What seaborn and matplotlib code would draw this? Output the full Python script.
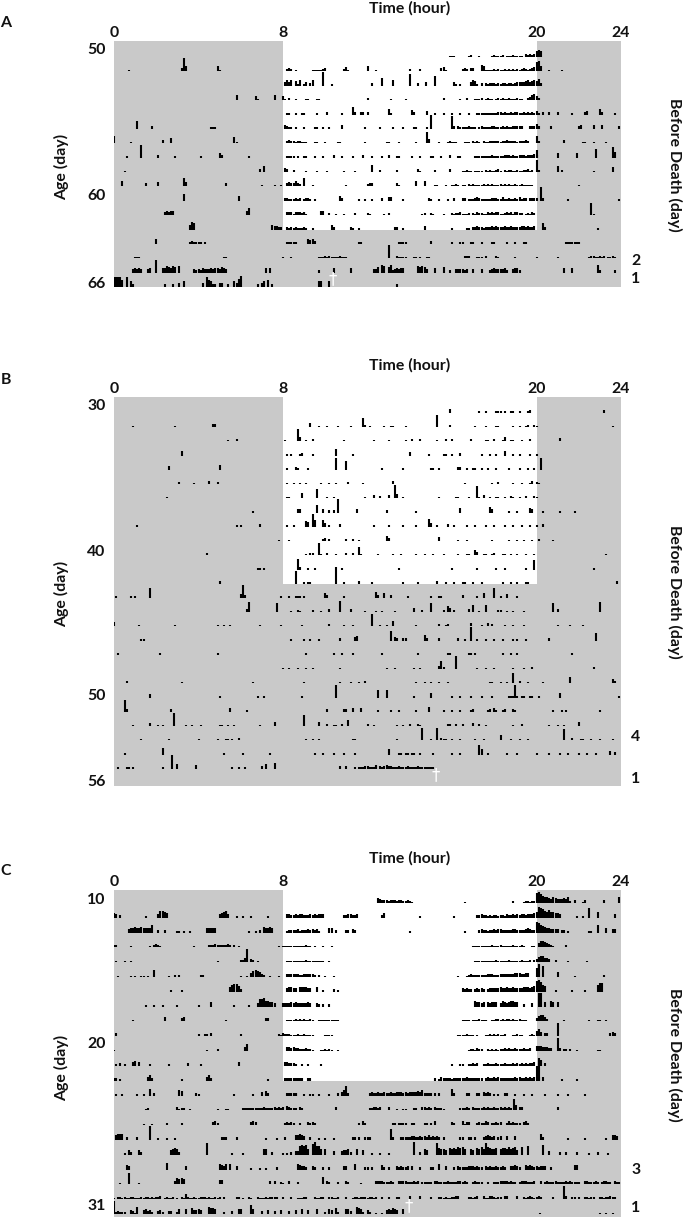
import numpy as np
import pandas as pd
import matplotlib
matplotlib.use("Agg")
import matplotlib.pyplot as plt
import seaborn as sns

# Each string is one day. Token = start hour : successive 0.1 h activity heights (base-36, pixels)
rows_a = [
"15.9:111 16.8:12 17.3:1 17.9:121112011121111032323 20:676",
"0.7:1 3.2:3d5 4.9:51 8.2:232 8.6:1 9.4:111112 10:3 10.9:241 12:5 12.4:1 14:2 14.5:2 15.5:341 16.5:232 16.9:33 17.4:651 17.7:1112121121212121232123 19.9:49a5 20.6:1 21.2:1",
"8.1:3535 8.6:415 9:13 9.3:25 9.9:d 10.3:1 12.2:2 12.7:7 13.2:5 14:b 14.4:2 14.75:3 15.2:9 16.1:31 16.4:1 16.9:3541 17.4:2 17.6:21222121221221233334 19.6:5343 19.9:5462",
"5.8:5 6.7:41 7.6:5 8:41 8.3:2 8.6:1 9.1:11 9.6:11 12:2 13.1:1 13.8:1 15.6:2 16.4:1 16.7:2 17.1:11120121101212112111211 19.6:231 19.8:564 20.1:2",
"8.2:11 8.6:1 8.9:11 9.6:1 10.1:2 10.8:1 11.3:72 11.7:22 12:2 13:51 14.1:42 14.8:3 15.2:1 15.6:1 16:1 16.4:1 16.8:1 17.2:1111111111221211212211212 19.7:12131 20.3:2 20.6:2 21:2 21.7:1 22.3:23 23:52 23.7:1",
"1.1:7 1.8:2 4.6:111 8.1:3211 8.6:1 9:1 9.5:11 9.9:1 10.2:1 10.8:3 11.9:1 12.6:1 13.2:1 13.7:1 14.2:11 14.8:1 15:d 16:c2 16.3:2111121110121111221112121122222 19.7:222 20:42 20.7:2 22:23 22.7:3 23.1:3 23.9:2",
"0:7 0.8:1 2.3:3 2.7:5 5.7:61 8.2:2322122101 9:1 9.5:11 10:1 10.6:11 11.9:1 12.9:11 13.5:1 14.3:1 14.8:b4 15.4:1 15.8:1211 16.2:1 16.6:1110212102112222212232222122232 20:72 21.3:3 22.2:11 22.7:1 23.3:1",
"0.6:1 1.3:c 2.1:2 2.9:1 4.1:1 5:42 6.4:1 8.2:1111 8.7:1 9:11 9.5:1 9.9:1 10.4:2 10.8:1 11.3:1 11.8:2 12.2:1 12.7:1 13:2 13.4:11 14.1:1 14.5:1 15:11 15.5:1 15.9:2 16.3:11 17.1:111111112111112221211222122232 20:7 21:4 21.9:4 22.8:8 23.6:a5",
"0.5:1 6.9:3 7.1:6 8.1:43 8.5:2 9.1:1 9.6:1 10.1:1 10.9:1 11.4:1 12.2:7 12.6:2 13.4:2 14.4:31 15.2:2 15.9:3 16.5:1121101111021211231021221121122312 20:c2 21:6 21.2:2 22.7:1 23.6:5",
"0.4:5 1.5:3 2.1:4 3.3:84 5.3:3 7:1 7.6:1 7.9:1 8.2:3433532 9:8 9.4:1 11:1 12:233 13.4:31 14.3:5 14.7:5 15.2:11 15.7:1 16:1121 16.5:11 16.8:2121111212121112121211211211111 22:1",
"3.3:6 5.9:4 8.1:2211121201221 9.5:1 10.7:42 11.6:1 11.9:1 12.2:1 12.7:2 13:33 13.7:1 14.9:21 15.4:1 15.8:1 16.1:2 16.5:2201112321111122211311211213122 19.7:2222 20.2:d2 21.5:1 23.9:1",
"2.4:343 2.7:44 6.3:47 8.2:333133323 9:31 9.8:44 10.2:2 10.5:1 10.9:1 11.4:2 12:21 12.8:1 13:2 14.6:12 15:21 15.6:1 16:2122311120213221132323311232313 19:3322 19.5:1213 19.8:22 22.6:c1",
"3.6:47 3.8:6 7.5:4332 7.9:2 8.2:2121211121 9.4:1 10.3:42 11.2:21 11.6:1 13.3:22 13.7:1 14.7:3 16:1 16.7:11 17:223221222323222322322223323223 20.3:62 22.9:1",
"2:4 3.6:1211 4:11 4.3:1 8.2:1111 8.6:1 9.2:434 9.5:2 11.6:11 13.5:1111 15:2 16:1 16.4:11 16.9:11 17.4:1 17.9:11 18.6:1 19:1 19.4:11 21.4:1111 21.8:111",
"1:111 5.2:11 8:1 8.4:1 9.7:1111 10:2121 10.4:1112 10.8:111 13:d 13.4:2111 13.8:1 14.2:11 14.5:1 14.8:11 16.6:222 17.2:111 17.6:2 18.1:21 19:1 20:1 21:1 22.5:1221 22.9:1212 23.4:1121",
"0.9:3434 1.3:3 1.6:34 2:c 2.3:4465465 3.1:6 3.8:3232433 4.5:34344354 5.3:3 7.2:4 7.4:4 9.7:2 10.4:4 11.2:4 12.3:335 12.7:76 13:57234344 14.4:6565 14.8:3 15.2:4 15.6:5 15.9:2 16.2:333323 17:3 17.4:3 17.8:23433334 18.6:2 18.9:3442 21.3:4 21.7:4 22.9:72 23.7:2",
"0:99997 0.6:9 0.8:63 2.4:2 2.8:2 3.1:4 3.3:5 4.2:4 4.4:9752 4.8:3 5:44 5.4:3 5.7:548 6:b 6.8:3 7:45 7.3:7 7.5:2 9.7:55 10.2:6 13.4:3",
]

rows_b = [
"15.9:3 17.3:1 17.6:1 18.1:111 18.5:1 18.8:11 19.2:1 19.6:12 23.2:2",
"0.9:1 2.9:1 4.7:33 9.3:4 9.7:1 10.1:1 10.6:1 11.2:1 11.8:92 12.1:1 12.8:1 13.1:11 13.8:1 15.3:c 15.9:2 17.1:1 17.6:1 18.1:11 18.9:1 19.2:1 19.5:12 19.9:21 23.6:1",
"5.4:1 5.8:2 8.1:1 8.7:c4 9.1:1 9.4:2 10.9:1 12.3:1 13:1 13.8:1 14.1:2 14.5:2 15.3:1 15.7:2 16:2 16.9:2 17.6:11 18:2 18.4:14 18.8:11 19.3:1 19.7:2 21.1:3",
"3.2:4 8.2:1 8.4:1 8.8:12 9.4:1 10.5:6 11.3:1 14:3 14.9:1 15.6:11 16:1 16.4:2 17.4:1 17.8:1 18.1:1 18.5:4 18.9:1 19.2:1 19.7:1 20:1",
"2.6:3 5:4 8.2:1 8.6:21 9.2:1 10.5:b 11:8 12.7:1 13.7:1 15:11 15.4:1 16.3:22 16.7:1 17:11 17.4:1 17.7:1 18.1:1 18.7:1 19.2:1 19.6:1 19.9:1 20.2:b",
"3.1:2 3.8:1 4.5:3 4.9:2 8.2:1 8.5:1 8.8:1 9.1:1 9.8:1 10.2:1 10.5:1 11.1:2 11.8:1 13.2:3 16.6:1 17.9:1 18.2:2 18.9:1 19.3:1 19.7:13 20:21",
"2.5:1 8.2:11 8.9:5 9.6:9 10.1:1 10.4:1 11.9:1 12.3:3 12.6:2 13:3 13.3:d4 13.7:1 15.4:1 16.2:11 16.8:1 17.2:c1 17.5:3 17.8:1 18.1:11 18.5:1 18.8:21 19.2:1 19.5:2 19.9:21 ",
"6.6:1 8.7:33 9.6:7 9.9:3 10.2:2 10.4:2 10.6:d 11.5:3 12.9:2 14.3:1 16.4:4 17.8:53 18.7:1 19.1:1 19.7:43 20.3:1 21.1:1 21.8:1",
"1.1:1 5.8:1 6:1 6.9:2 8.2:1 8.5:1 9.1:54 9.4:c6 9.9:63 10.2:1 10.7:2 12.3:1 13:1 13.7:1 14.3:1 14.9:73 15.3:1 15.8:2 16.1:1 16.7:1 17.1:1 17.6:1 18:1 18.5:1 18.9:1 19.3:1 19.7:1 20:1 20.3:2",
"7.8:1 8.3:1 9.9:23 10.2:2 11:2 11.3:2 11.6:1 12.9:53 15.4:4 16.3:1 16.7:1 17.9:1 18.7:1 19.1:1 19.4:1 19.8:1 20.1:2 20.8:1",
"4.4:2 9.1:1 9.3:22 9.7:c1 10.1:2 10.5:1 11:2 11.3:2 11.6:81 12.5:1 13.2:1 13.6:1 14.3:1 14.7:1 15.1:1 15.6:1 16.3:1 16.7:11 17.1:53 17.5:11 17.9:12 18.4:11 18.8:1 19.1:1 19.5:1 19.9:1 23.3:1",
"6.8:11 7.1:1 8.7:a2 9.2:1 9.5:1 10.5:2 10.8:1 13.5:1 16:1 17.2:1 18.1:1 18.5:1 19.5:1 19.9:9 22.7:1",
"5:2 8.6:c 9:1 9.2:11 10.5:d 10.9:1 11.6:2 12.2:1 13.7:1 14.4:1 15.3:2 15.7:1 16.1:1 16.5:11 17:1 17.4:1 18.4:1 18.8:1 19.1:1 19.5:11 23.8:2",
"0.1:1 0.8:1 1:1 1.7:9 6:3 6.1:c2 7.9:1 8.3:1 8.6:111 9:1 10:42 10.9:1 12.4:62 12.8:4 13.1:2 13.9:1 15:1 15.4:11 16.5:2 17.2:1 17.5:4 18:9 18.3:1 18.6:3 19.1:1",
"6.3:3a 7.7:9 8.4:1 8.7:21 9.4:2 9.8:1 10.2:3 10.7:b 11.2:3 11.9:1 12.4:1 12.7:1 13.3:1 14.2:4 14.6:2 15:9 15.6:2 15.8:64 16.1:2 16.8:3 17:7 17.3:1 17.6:7 18.2:22 18.6:1 18.9:1 19.4:1 20.8:9 21:3 23:a",
"0:4 1.2:1 2.9:1 4.9:1 5.2:1 5.5:1 6.9:1 7.9:1 8.9:1 10.2:2 10.9:1 11.3:1 12.2:c 12.6:1 12.9:1 13.2:5 14.3:1 15.4:2 15.7:12 16.9:3 17.4:1 17.7:3 17.9:2 18.5:1 18.9:1 19.4:1 21:1 21.6:1 22.2:1",
"1.3:11 8.4:1 9:1 9.3:1 9.7:1 10.7:2 11.4:34 13.1:9 13.3:32 13.7:22 14.7:52 15.4:2 16.3:2 16.6:1 16.9:d 17.2:1 17.6:1 18:1 18.4:1 18.9:1 19.1:1 19.5:1 20.6:2 22.8:7",
"0.2:1 2.2:1 4.9:1 9.1:1 10.4:1 10.8:1 11.3:1 12.7:1 14.4:1 15.8:11 16.8:11 17.1:1 18.4:1 18.8:1 19.1:1 21.7:1",
"8:1 8.3:1 8.7:1 9.1:1 9.4:1 10.7:1 12.9:1 13.3:1 14.2:1 14.5:1 15.4:38 15.6:2 16.2:d 17.2:1 17.6:1 18:1 18.9:1 19.4:1 19.8:2 22.7:2",
"0.6:2 3.2:1 6.6:1 9:1 10.7:1 11.2:1 11.6:1 11.9:2 14.3:1 14.7:1 15:1 15.4:1 15.8:1 17.8:11 18.3:1 18.6:1 18.9:a 19.2:2 19.6:1 20.3:1 21.6:6 23.6:42",
"1.7:3 5:1 6.8:1 7.1:1 8.9:1 10.5:c 12.5:7 12.9:7 14.2:1 15:4 16:1 16.4:1 16.9:1 17.4:1 17.9:1 18.7:111 19:c1 19.3:11 19.7:11 20.1:1 21.1:4 23.9:1",
"0.5:b2 2.7:2 5.5:3 6.3:1 10.1:2 10.9:22 11.3:3 11.7:3 12.5:1 13.1:1 13.5:1 14.3:1 14.9:4 15.6:1 16:1 16.4:1 16.9:1 17:2 17.7:12 18:31 18.4:12 18.9:2 19:1 20.8:1 21.2:1 21.4:1 23:1",
"0.9:1 1.7:3 2.1:1 2.3:1 2.85:d 3.4:1 3.7:1 4.1:1 5:11 5.4:1 5.7:1 6.9:1 7.6:4 9:b 9.7:4 10.1:2 10.4:11 10.8:2 11.1:6 12:2 12.3:1 13.4:1 13.7:1 14:2 14.4:21 15.8:22 16.2:2 16.5:2 17:3 17.3:2 17.6:1 18.9:1 19.3:2 20.6:1 21:1 21.3:1 22:4",
"1.3:1 2.6:1 4:1 4.9:1 5.3:11 5.6:1 5.9:2 9.1:1 9.4:1 9.7:1 11.3:11 13.4:1 14.6:c 15:1 15.3:c 15.5:211 16:1 16.4:1 17.1:1 17.5:1 18.3:5 18.8:1 19.2:1 19.6:1 21.3:b 21.7:2 22.1:11 22.6:1 23:1 23.6:1",
"0.5:1 2.3:6 5.2:1 6.1:1 7.4:1 9.5:1 9.9:1 10.4:1 10.9:1 11.4:1 13:5 13.5:11 13.8:11 14.1:11 14.5:1 15.1:1 16:1 16.4:1 17.3:95 17.7:1 18.6:1 19.1:1 20:1 20.6:1 21.1:1 21.5:1 22:1 22.4:1 22.8:1 23.5:3 23.7:2",
"0.2:1 0.6:11 0.9:1 2.3:1 2.75:d 3:4 3.9:3 5.6:1 5.9:1 6.2:1 7:2 7.2:4 7.6:5 10.7:2 11:2 11.4:1 11.6:111221112 12.4:3 12.6:21232211121112111121111111 15:1",
]

rows_c = [
"12.5:5433323332332232 14.1:1 16.6:1 18.9:2 19.4:122122 20:ab976 20.5:65465444546 21.6:2 21.8:3 22.2:13 23.2:3 23.9:6",
"0:43 0.3:2 1.5:1 2.1:3665 2.5:4 5:3456 5.3:63 5.8:1 6.1:1 6.5:1 7.3:1 8.2:332232332223232333 10.9:2233223 12.7:24 14.5:1 16.1:1 17.2:223221212212213223232332333 19.9:45a98 20.3:76575544 21.1:3 21.9:1 22.2:1 22.5:9 22.9:5 23.7:3",
"0.7:34454454444 1.8:7 2.1:2 2.4:2 3:11 3.3:1 3.6:1 4.4:44444 6.4:1 6.7:1 6.9:2 7.1:54454 8.2:122223122232323 9.7:1 10.2:44 10.5:2 11:22 11.3:32 14:1 16.6:1 17.3:2322122323322222332222 19.5:34322 20:a97 20.3:65443333 21.2:22 21.5:1 22.5:11 22.9:7 23.3:4 23.6:33",
"0:22 0.8:1 1.7:1 1.9:232 2.2:1 3.8:1 4.5:22232222232 5.7:2 5.9:1 7.8:1 8:11111111111211 9.5:1 9.9:1 10.3:1 17:1111111112111211111211121 19.8:11 20.1:4665432 20.8:1 21.4:2",
"0.1:1 0.5:1 0.8:1 4.9:1 6:2 6.1:24 6.3:d 6.5:32 6.8:1 8.2:11111111121111111 9.9:1 10.2:1 17.1:111111111121111121111121112 19.9:23 20.1:566443 20.9:2 21.5:1 22.4:1",
"0.2:1 0.8:1 1:1 1.3:11 1.6:1 1.9:7 2.6:1 2.9:2 3.1:2 4.1:22 6:1 6.3:1 6.5:4676 6.9:532 7.4:1 7.8:1 8.2:33333322333332 9.7:2 10:1 10.4:1 16.3:1 16.7:123222222233322233333334443344 20:9d 20.3:b 21:5 21.8:1 23.2:2",
"2.7:1 3.2:1 5.5:46775 6:2 8.2:344330444433 9.6:4 9.9:1 10.4:2 10.6:1 16.5:323220232320 17.7:2333334334334333344434 19.9:5 20:ab9 20.3:65 20.9:1 21.7:1 22.3:1 22.9:688",
"1.5:1 1.9:1 2.3:1 3:1 4:1 4.6:4 5.7:1 6.4:1 6.8:37785544 7.6:3 8:333343433333 9.1:343 9.6:32 9.9:2 10.2:2 17.1:5443404344 18.1:4 18.3:354345544 19.4:2 19.8:3 20.1:dd 20.4:4 20.7:54 21:4",
"0.9:1 2.4:4 3.2:34 5.3:1 7.2:33 8.2:111121212112 9.4:1 9.7:11111111 10.5:11 16.5:11110111 17.2:12111 17.6:1 17.9:11221212212 19:11211 19.5:1 20:356642 21.3:1 22.5:1 22.9:11 23.3:1",
"0.1:3 4:2 4.3:22 4.6:3 6:2 7.8:2132221112112111 9.4:1 10:1111 16.3:1111211101 17.6:1121212112 18.4:1 18.9:1121 19.3:1 19.7:121 20:5 20.1:74 20.4:33 21:d 23.5:343",
"0:1 4.4:1 4.9:2 6.2:47 8.2:443433222322 9.4:1 9.8:112121 10.6:1 16.8:122132 17.4:2 17.7:21212122323223222322 19.6:23 20:5554443 20.7:3 21:d3 21.3:22 21.6:2 21.9:1 22.9:11",
"0.1:1 0.3:2 0.5:1 0.9:34 1.2:3 1.7:1 2.6:1 3.5:2 4.1:1 5.9:3 8.1:332221 8.9:1 9.2:1 9.8:1 16:1 16.4:11 16.8:11212 17.5:1121112111211121112 19:1211121223 20.1:75 20.4:2",
"0:22 0.3:1 1.6:35 1.8:2 3.2:1 4.4:35 4.6:2 7.3:1 8.1:22222222 8.8:22 9.2:22 15.2:2 15.4:132222122222232222222 17.6:23223232222 18.6:2222323223232333 20:ee 20.3:3 21.2:1 21.9:1",
"0.1:1 0.4:1 1.1:1 1.4:1 1.7:6 1.9:2 3.1:54 3.9:21 5.7:1 6.6:1 7:3 7.2:42 8.2:22222 8.6:2 9:1 9.3:11 9.7:1 10.2:1 10.6:2 10.8:3592 12.1:23223223223223332323333435222 15:2 15.2:2 15.4:2 16:62 16.7:22 17.2:22 17.5:3232 18:1 18.2:1 18.5:22 19:1 19.4:1 19.8:1 20.4:1 21:1 21.5:1 22.3:1",
"1.5:12 3:3122 3.6:1 4.9:1 5.3:11 6.1:22222222223222232323 8.2:43222 8.8:32 10.5:3 12.1:223323 13:3 13.4:1 13.7:11 14.2:22 14.6:33232 15.2:32221 16.4:2223 16.8:2 17:3222232322322323232 18.95:b5 19.2:33 21:3",
"1.4:1 1.8:1 2.5:2 3.2:2 4.7:342 6.5:343 8.1:23232 8.8:2 9.2:3232 11.6:2 11.8:42 13.2:22 13.5:2222 14.1:22 14.7:22 15:2 15.2:4 16:32 16.5:4133 17.2:232243 17.9:22323 18.6:2423222 19.4:342",
"0.1:4555 0.6:2 1.1:2 1.7:d 2.1:1 2.5:1 2.9:1 5.1:222 5.8:2 7.2:1 7.7:1 8.1:2 8.6:44543 9.3:2 9.7:1 10:1 10.4:1 11.3:22 11.6:2 11.9:222 13.1:a2 13.6:2222233223232423232 15.6:2 16.4:22 16.8:22 17.1:2 17.5:234323 18.2:23 18.6:3 19:3 20.2:52 21.5:1 22.3:1 23.3:1 23.6:443",
"0.5:1 0.7:42 1.2:42 2.7:45652 4.4:b 5.6:1 6.1:1 7.1:55 7.5:2 8:1 8.2:1 8.4:2 8.6:338989 9.2:5 9.4:ac8 9.7:8505 10.4:3 10.8:3445 11.2:2 11.5:5 11.8:4 12.2:1 12.6:1 13:1 14.2:c 14.5:2 14.7:54 15.3:b6554 15.9:656576 16.5:75 16.9:54 17.2:6575b76556 18.3:56657567 19.1:4 19.3:7 19.6:8 20.3:9 20.6:3 21.1:2 21.4:2 21.9:2 22.5:1 22.9:2 23.4:1",
"0.6:43 2.5:6 3.4:3 5:5435 5.5:5 5.8:3 6.5:1 6.9:1 7.2:1 7.7:2 8.7:5433 9.1:2 9.4:32 9.9:2 10.2:2 10.9:33 11.4:5 11.9:22 12.2:2 12.7:42 13:2 13.4:32322 13.9:3 14.1:3 14.5:2 15:22 15.4:5 15.7:3 16.1:2 16.3:3222233 17:32322 17.6:32322322 18.4:32 18.8:33432 19.5:434323233 20.3:33 20.7:2 21.8:44",
"0.3:1 0.7:b 1.2:1 2.9:36565 5:44 7.4:3 7.6:3 7.9:21 8.3:3 8.7:2 9.9:7 10.1:32 10.6:2 11:32 11.7:1 12.4:33332223 13.2:2 13.5:3333222323 14.4:3 14.6:22222 15.2:33222232 16:22233232 17:23222 17.7:2 18:22233332322 19.2:23332223 20.2:3 20.4:2322232222323222 22:2 22.3:3322232 23.1:23322 23.7:322",
"0:1 0.2:2212112211121221 1.8:21223 2.4:12112 3:1 3.2:215211 3.8:211222121121 5:2 5.2:2 5.8:22 6.1:1 6.4:21 6.8:21112122 7.6:22 8:2 8.4:2 8.7:11122 9.5:21122 10.2:22112 10.6:2 11:2 11.3:12212221221 12.4:2 12.7:2 13:2 13.4:22 14:3 14.5:3 15:2 15.4:22121122 16.2:33 16.8:22123 17.5:31133212 18.3:2 18.5:33 19.1:3 19.4:21232122 20.1:32 20.8:2 21.3:d3 21.7:22 22:2 22.3:22122 23:22122322",
"0:d2322 0.5:2 0.8:4317 1.4:45342 2.1:342 2.6:33 3:25 3.4:5 3.7:64454 4.5:7665 5.2:2 5.6:3 5.9:55 6.5:95 7:3 7.3:4 7.6:3 7.9:4 8.3:3 8.6:4 8.9:5 9.2:4 9.6:5 10:2 10.2:54 10.5:62 11:553 11.5:7652 12:42 12.4:1 12.7:1 12.9:454654 13.7:5 20.15:1 23:1 23.3:1 23.6:1",
]

ages_a = list(range(50, 67))
ages_b = list(range(30, 57))
ages_c = list(range(10, 32))
TICK_HOURS = [0, 8, 20, 24]
BIN = 0.1
BG = "#C9C9C9"
FS = 11.4

W, H = 685, 1219
sns.set_theme(style="white")
plt.rcParams["font.family"] = ["Lato", "DejaVu Sans"]
plt.rcParams["font.weight"] = "bold"
fig = plt.figure(figsize=(W / 100, H / 100), dpi=100)


def parse(rows, ages):
    rec = []
    unit = 0
    for age, row in zip(ages, rows):
        for tok in row.split():
            start, digits = tok.split(":")
            for i, c in enumerate(digits):
                h = int(c, 36)
                if h == 0:
                    continue
                x = float(start) + i * BIN
                rec.append((unit, x, age, 0))
                rec.append((unit, x, age, h + 0.5))
                unit += 1
    return pd.DataFrame(rec, columns=["unit", "hour", "age", "h"])


def panel(rows, ages, top, bottom, y0, y1, white_age, letter, letter_y, title_y,
          ylabs, ytick_y, age_y, death_y, right, dagger):
    ax = fig.add_axes([114 / W, 1 - bottom / H, 507 / W, (bottom - top) / H])
    step = (y1 - y0) / (ages[-1] - ages[0])
    ylim = (ages[-1] + (bottom - y1) / step, ages[0] - (y0 - top) / step)
    ax.set_facecolor(BG)
    ax.fill_between([8, 20], ylim[1], white_age + 0.05, color="white", lw=0, zorder=1)
    df = parse(rows, ages)
    df["y"] = df["age"] - df["h"] / step
    sns.lineplot(data=df, x="hour", y="y", units="unit", estimator=None, sort=False,
                 color="black", lw=1.5, solid_capstyle="butt", ax=ax, zorder=2,
                 legend=False)
    ax.set_xlim(0, 24)
    ax.set_ylim(*ylim)
    ax.set_xlabel("")
    ax.set_ylabel("")
    ax.xaxis.tick_top()
    ax.set_xticks(TICK_HOURS)
    ax.set_xticklabels([str(t) for t in TICK_HOURS], fontsize=FS, fontweight="bold", color="#111")
    ax.tick_params(axis="x", length=0, pad=1)
    ax.set_yticks([a + (p - (y0 + (a - ages[0]) * step)) / step for a, p in zip(ylabs, ytick_y)])
    ax.set_yticklabels([str(a) for a in ylabs], fontsize=FS, fontweight="bold", color="#111")
    ax.tick_params(axis="y", length=0, pad=6)
    for s in ax.spines.values():
        s.set_visible(False)
    ax.grid(False)
    ax.text(dagger[0], dagger[1] + 0.1, "\u2020", color="white", ha="center", va="bottom", fontsize=12,
            family="DejaVu Sans", fontweight="normal", zorder=3)
    kw = dict(fontsize=FS, fontweight="bold", ha="center", va="center", color="#111")
    fig.text(6 / W, 1 - letter_y / H, letter, **kw)
    fig.text(410 / W, 1 - title_y / H, "Time (hour)", **kw)
    fig.text(62 / W, 1 - age_y / H, "Age (day)", rotation=90, **kw)
    fig.text(675 / W, 1 - death_y / H, "Before Death (day)", rotation=270, **kw)
    for lab, py in right:
        fig.text(636 / W, 1 - py / H, lab, **kw)


panel(rows_a, ages_a, 41, 287, 57, 287, 62, "A", 23, 8, [50, 60, 66], [48, 194, 282], 167, 165,
      [("2", 261), ("1", 279)], (10.35, 66))
panel(rows_b, ages_b, 397, 786, 413, 783, 42, "B", 380, 365, [30, 40, 50, 56], [404, 551, 694, 781], 594, 592,
      [("4", 737), ("1", 779)], (15.25, 56))
panel(rows_c, ages_c, 890, 1217, 903, 1214, 22, "C", 871, 858, [10, 20, 31], [898, 1043, 1205], 1068, 1055,
      [("3", 1170), ("1", 1208)], (13.95, 31))

fig.savefig("out.png", dpi=100, facecolor="white")
